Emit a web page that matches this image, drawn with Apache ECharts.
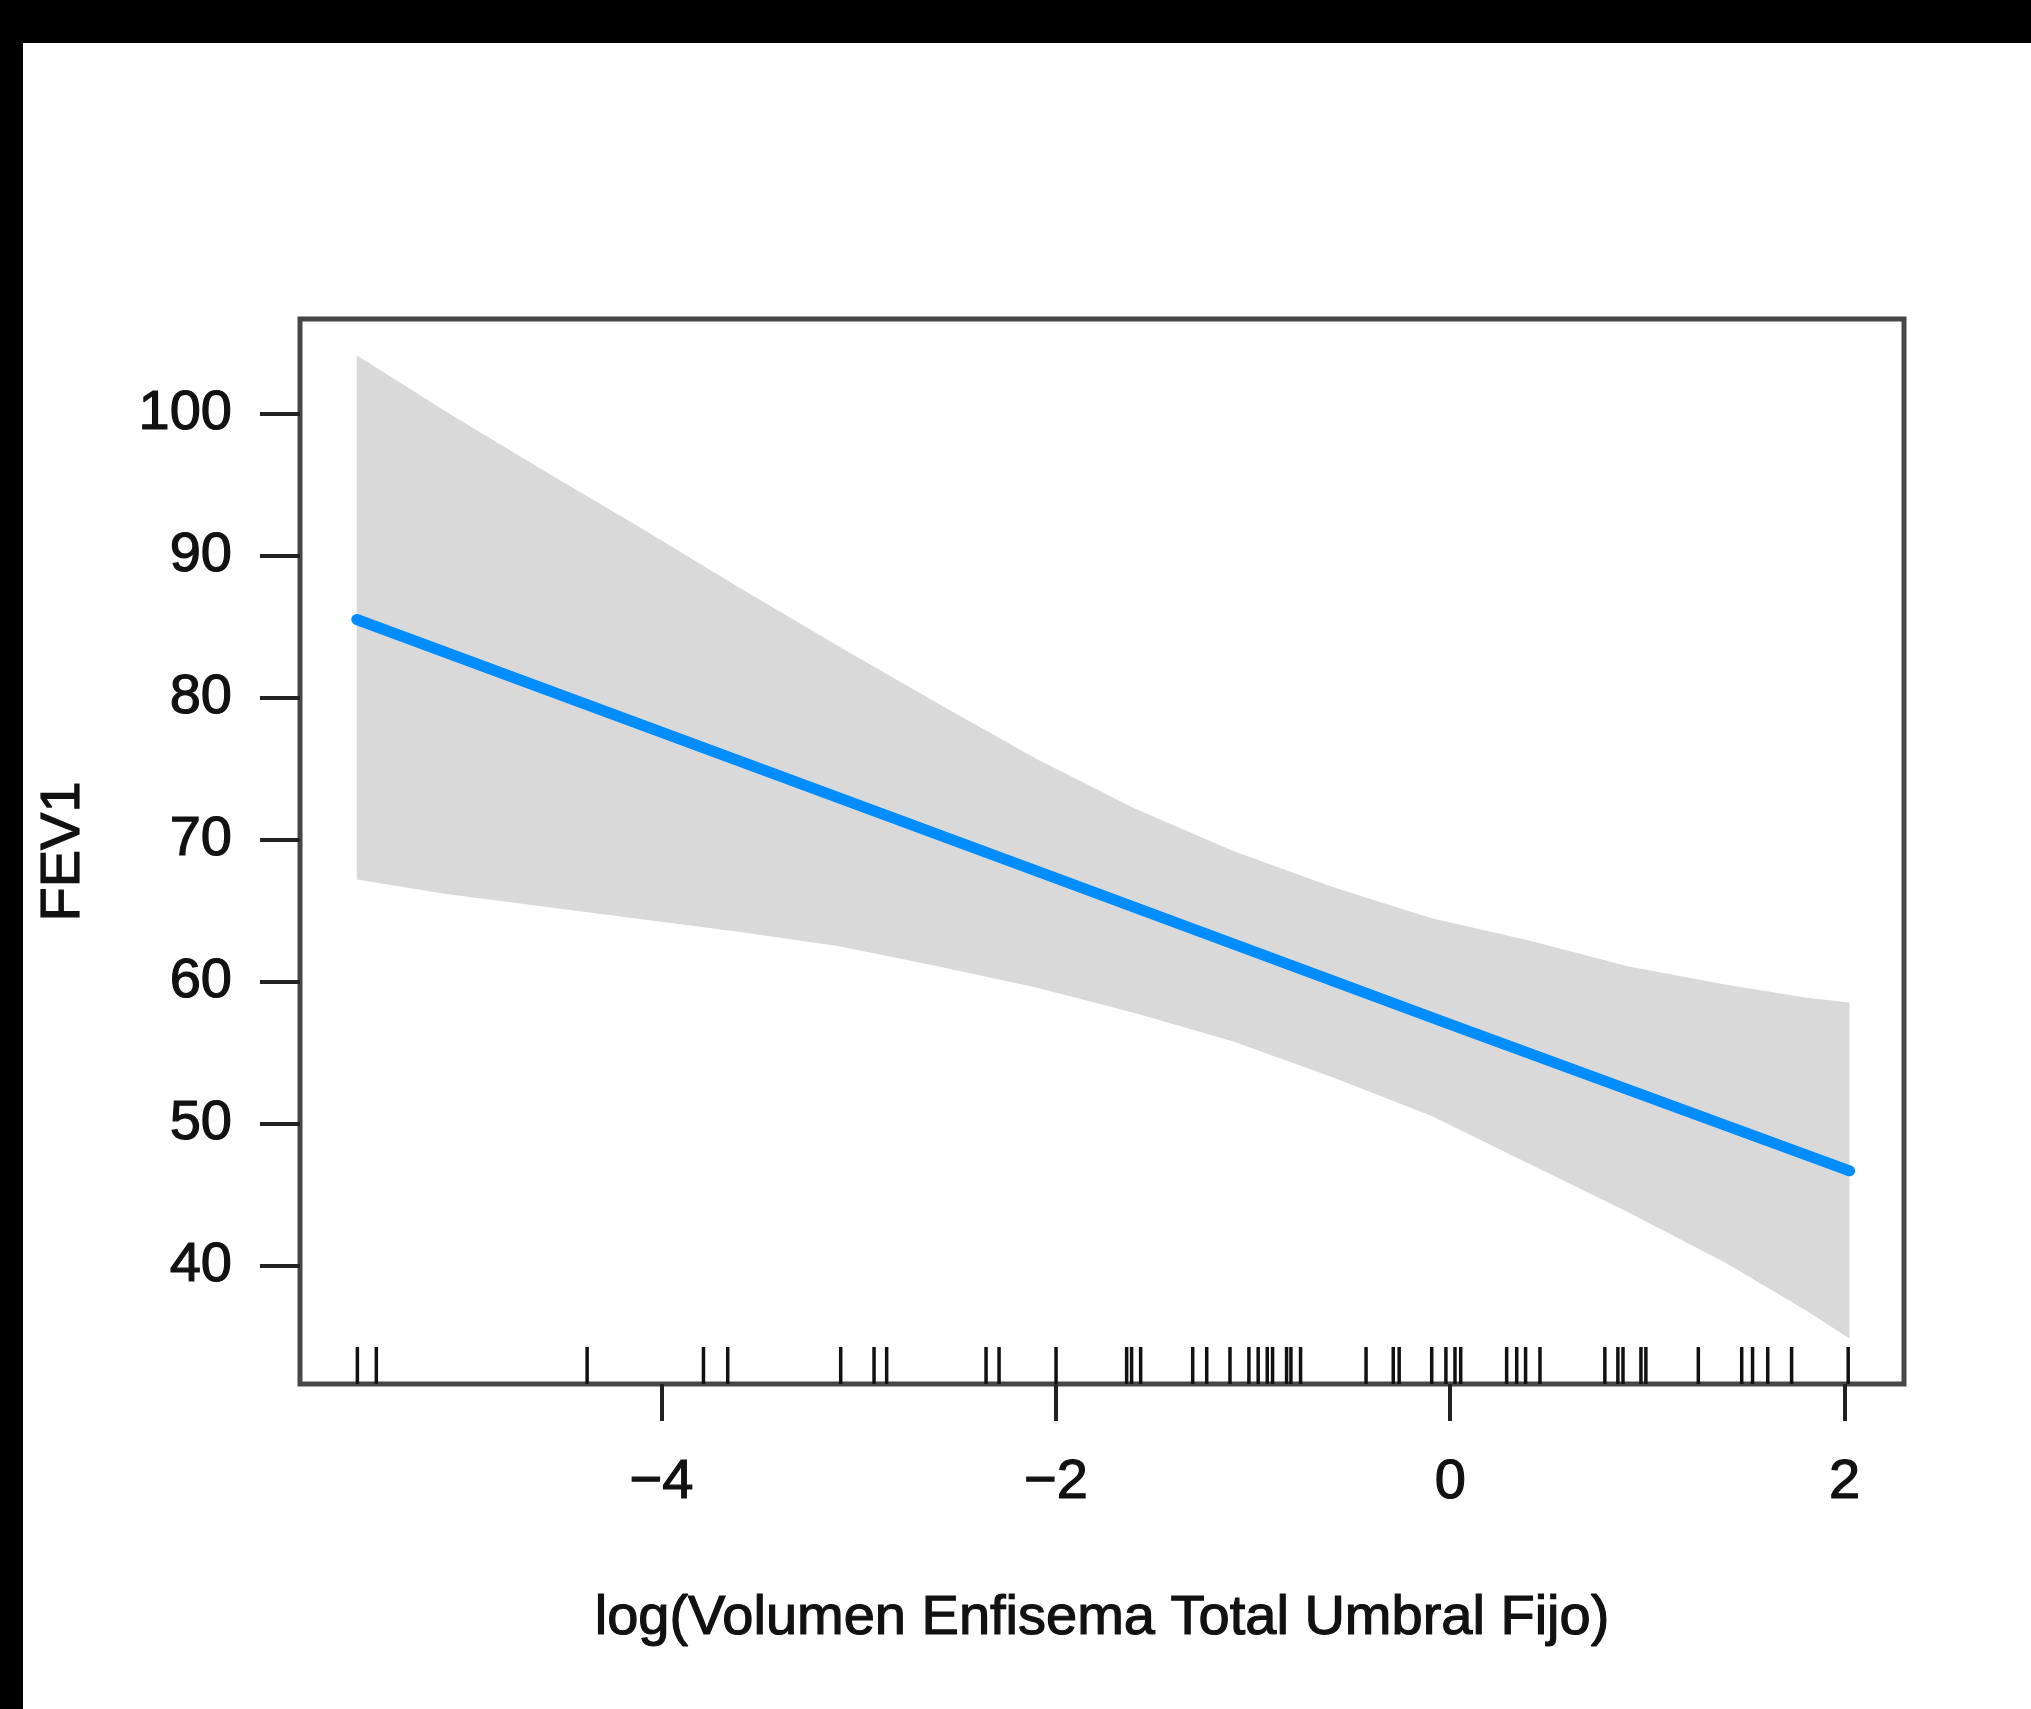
<!DOCTYPE html>
<html>
<head>
<meta charset="utf-8">
<script src="https://cdn.jsdelivr.net/npm/echarts@6/dist/echarts.min.js"></script>
<style>
html,body{margin:0;padding:0;background:#000;width:2031px;height:1709px;overflow:hidden;}
#chart{position:absolute;left:23px;top:43px;width:2008px;height:1666px;background:#fff;}
</style>
</head>
<body>
<div id="chart"></div>
<script>
// ---- data ----
const xTicks = [-4, -2, 0, 2];
const yTicks = [40, 50, 60, 70, 80, 90, 100];

const xMin = -5.833, xMax = 2.301;
const yMin = 31.695, yMax = 106.65;

// confidence band (x, upper, lower)
const bandX     = [-5.545, -5.1, -4.6, -4.1, -3.6, -3.1, -2.6, -2.1, -1.6, -1.1, -0.6, -0.1, 0.4, 0.9, 1.4, 1.8, 2.025];
const bandUpper = [104.1, 100.2, 96.0, 91.9, 87.7, 83.6, 79.6, 75.7, 72.2, 69.2, 66.7, 64.5, 62.9, 61.1, 59.8, 58.9, 58.55];
const bandLower = [67.2, 66.2, 65.3, 64.4, 63.5, 62.5, 61.1, 59.6, 57.8, 55.8, 53.3, 50.6, 47.2, 43.8, 40.2, 36.9, 34.9];

// fitted line
const fitX = [-5.545, -2, 0, 2.025];
const fitY = [85.5, 67.3, 57.0, 46.7];

// rug (observed x values)
const rugX = [-5.542, -5.446, -4.377, -3.787, -3.664, -3.091, -2.922, -2.858, -2.354, -2.288,
  -1.999, -1.641, -1.616, -1.570, -1.306, -1.235, -1.117, -1.021, -0.974, -0.928,
  -0.901, -0.830, -0.808, -0.759, -0.427, -0.289, -0.259, -0.094, -0.022, 0.024,
  0.053, 0.286, 0.337, 0.382, 0.455, 0.784, 0.850, 0.876, 0.967, 0.992,
  1.258, 1.478, 1.533, 1.610, 1.731, 2.018];

const xTitle = 'log(Volumen Enfisema Total Umbral Fijo)';
const yTitle = 'FEV1';

// ---- chart ----
const FONT = '"Liberation Sans", Arial, Helvetica, sans-serif';
const chart = echarts.init(document.getElementById('chart'), null, {renderer: 'canvas'});

const minusFmt = v => String(v).replace('-', '\u2212');
const txt = {fontFamily: FONT, fontSize: 56, lineHeight: 56, color: '#111',
  textBorderColor: '#111', textBorderWidth: 1.2};

const option = {
  animation: false,
  backgroundColor: '#ffffff',
  grid: {
    left: 277, top: 276, width: 1604, height: 1065,
    show: true, borderColor: '#474747', borderWidth: 5, backgroundColor: 'transparent',
    containLabel: false, outerBoundsMode: 'none'
  },
  xAxis: {
    type: 'value', min: xMin, max: xMax,
    name: xTitle, nameLocation: 'middle', nameGap: 207,
    nameTextStyle: Object.assign({}, txt),
    axisLine: {show: false, onZero: false},
    splitLine: {show: false},
    axisTick: {show: true, customValues: xTicks, length: 37, inside: false,
      lineStyle: {color: '#222', width: 4}},
    axisLabel: Object.assign({show: true, customValues: xTicks, margin: 71, formatter: minusFmt}, txt)
  },
  yAxis: {
    type: 'value', min: yMin, max: yMax,
    name: yTitle, nameLocation: 'middle', nameGap: 208, nameRotate: 90,
    nameTextStyle: Object.assign({}, txt),
    axisLine: {show: false, onZero: false},
    splitLine: {show: false},
    axisTick: {show: true, customValues: yTicks, length: 40, inside: false,
      lineStyle: {color: '#222', width: 4}},
    axisLabel: Object.assign({show: true, customValues: yTicks, margin: 68, formatter: minusFmt}, txt)
  },
  series: [
    {
      type: 'custom', name: 'band', silent: true, z: 1, clip: false,
      data: bandX.map((x, i) => [x, bandUpper[i]]),
      renderItem: function (params, api) {
        if (params.dataIndex !== 0) return null;
        const pts = [];
        for (let i = 0; i < bandX.length; i++) pts.push(api.coord([bandX[i], bandUpper[i]]));
        for (let i = bandX.length - 1; i >= 0; i--) pts.push(api.coord([bandX[i], bandLower[i]]));
        return {type: 'polygon', shape: {points: pts}, style: {fill: '#d9d9d9', stroke: null}};
      }
    },
    {
      type: 'line', name: 'fit', z: 3, silent: true,
      data: fitX.map((x, i) => [x, fitY[i]]),
      showSymbol: false, symbol: 'none',
      lineStyle: {color: '#008DFF', width: 11, cap: 'round'}
    },
    {
      type: 'custom', name: 'rug', silent: true, z: 4, clip: false,
      data: rugX.map(x => [x, yMin]),
      renderItem: function (params, api) {
        const p = api.coord([api.value(0), api.value(1)]);
        return {type: 'line', shape: {x1: p[0], y1: p[1], x2: p[0], y2: p[1] - 37},
          style: {stroke: '#111', lineWidth: 3.5}};
      }
    }
  ]
};
chart.setOption(option);
</script>
</body>
</html>
